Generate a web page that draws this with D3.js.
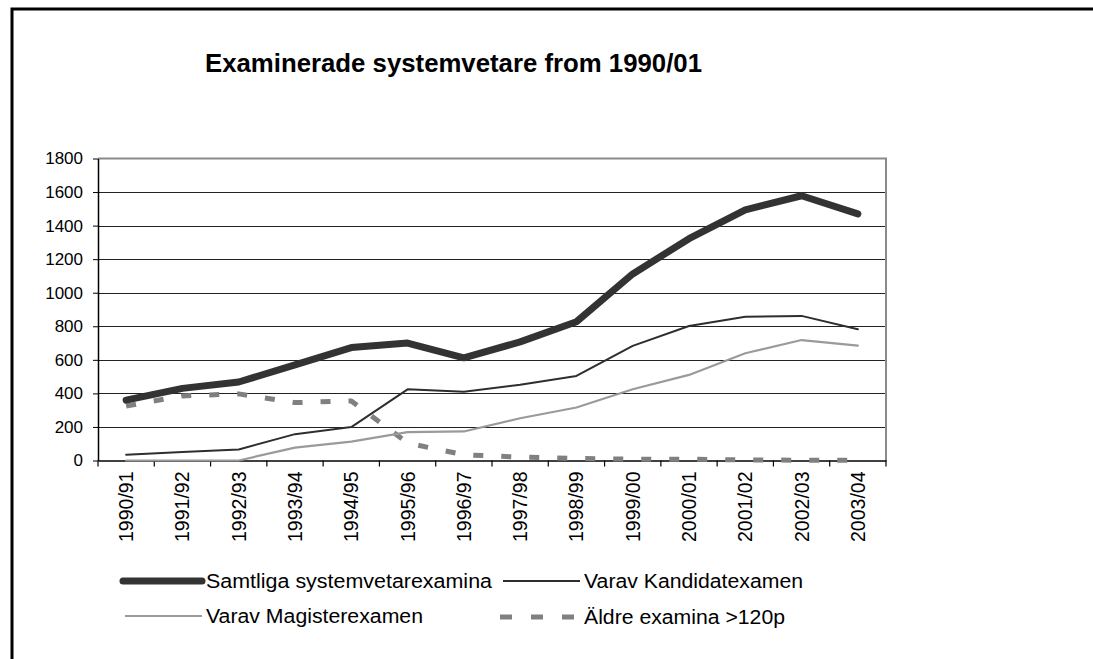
<!DOCTYPE html>
<html>
<head>
<meta charset="utf-8">
<script src="https://cdnjs.cloudflare.com/ajax/libs/d3/7.8.5/d3.min.js"></script>
<style>
    html, body { margin: 0; padding: 0; background: #fff; }
    svg { display: block; }
</style>
</head>
<body>
<script>
    var years = ["1990/91", "1991/92", "1992/93", "1993/94", "1994/95", "1995/96", "1996/97",
                 "1997/98", "1998/99", "1999/00", "2000/01", "2001/02", "2002/03", "2003/04"];
    var samtliga = [360, 430, 468, 570, 673, 700, 612, 707, 827, 1112, 1322, 1494, 1578, 1470];
    var kandidat = [34, 50, 66, 157, 199, 424, 410, 451, 504, 683, 802, 857, 862, 782];
    var magister = [0, 0, 0, 77, 113, 169, 173, 252, 316, 425, 510, 639, 718, 685];
    var aldre = [325, 385, 397, 345, 355, 104, 34, 20, 12, 8, 8, 3, 2, 2];
    var yTicks = [0, 200, 400, 600, 800, 1000, 1200, 1400, 1600, 1800];
    var names = ["Samtliga systemvetarexamina", "Varav Kandidatexamen", "Varav Magisterexamen", "Äldre examina >120p"];

    var W = 1093, H = 659;
    var padL = 98, padR = 886, padT = 158.5, padB = 460.5;
    var font = "'Liberation Sans', Arial, sans-serif";

    var svg = d3.select("body")
        .append("svg")
        .attr("width", W)
        .attr("height", H);

    // outer frame (open to the right and bottom)
    svg.append("rect")
        .attr("x", 12)
        .attr("y", 9)
        .attr("width", 1200)
        .attr("height", 800)
        .attr("fill", "none")
        .attr("stroke", "#000")
        .attr("stroke-width", 3);

    svg.append("text")
        .attr("x", 205)
        .attr("y", 72)
        .attr("textLength", 497)
        .attr("lengthAdjust", "spacingAndGlyphs")
        .style("font-family", font)
        .style("font-size", "25.6px")
        .style("font-weight", "bold")
        .text("Examinerade systemvetare from 1990/01");

    var xScale = d3.scaleBand()
        .domain(years)
        .range([padL, padR])
        .paddingInner(0)
        .paddingOuter(0);

    var yScale = d3.scaleLinear()
        .domain([0, 1800])
        .range([padB, padT]);

    // gridlines
    svg.append("g")
        .selectAll("line")
        .data(yTicks.slice(1, yTicks.length - 1))
        .enter()
        .append("line")
        .attr("x1", padL)
        .attr("x2", padR)
        .attr("y1", function(d){ return Math.round(yScale(d)) + 0.5; })
        .attr("y2", function(d){ return Math.round(yScale(d)) + 0.5; })
        .attr("stroke", "#222")
        .attr("stroke-width", 1);

    // plot border top / right in gray
    svg.append("path")
        .attr("d", "M" + padL + "," + padT + "H" + padR + "V" + padB)
        .attr("fill", "none")
        .attr("stroke", "#8a8a8a")
        .attr("stroke-width", 2);

    var yAxis = svg.append("g")
        .attr("transform", "translate(" + padL + ",0)")
        .call(d3.axisLeft(yScale).tickValues(yTicks).tickFormat(d3.format("d"))
            .tickSize(5).tickSizeOuter(0).tickPadding(10));

    yAxis.selectAll("text")
        .style("font-family", font)
        .style("font-size", "17px")
        .attr("fill", "#000");
    yAxis.select(".domain").attr("stroke", "#000").attr("stroke-width", 1.5);
    yAxis.selectAll("line").attr("stroke", "#000");

    var xAxis = svg.append("g")
        .attr("transform", "translate(0," + padB + ")")
        .call(d3.axisBottom(xScale).tickSize(0).tickSizeOuter(0));

    xAxis.select(".domain").attr("stroke", "#000").attr("stroke-width", 1.5);
    xAxis.selectAll("text")
        .style("font-family", font)
        .style("font-size", "19.5px")
        .attr("fill", "#000")
        .attr("text-anchor", "end")
        .attr("transform", "translate(0,11) rotate(-90)")
        .attr("x", 0)
        .attr("y", 0)
        .attr("dy", "0.36em");

    // ticks between categories
    xAxis.append("g")
        .selectAll("line")
        .data(years.concat(["end"]))
        .enter()
        .append("line")
        .attr("x1", function(d){ return d == "end" ? padR : xScale(d); })
        .attr("x2", function(d){ return d == "end" ? padR : xScale(d); })
        .attr("y1", 0)
        .attr("y2", 6)
        .attr("stroke", "#000")
        .attr("stroke-width", 1.2);

    var line = d3.line()
        .x(function(d, i){ return xScale(years[i]) + xScale.bandwidth() / 2; })
        .y(function(d){ return yScale(d); });

    var series = [
        { values: samtliga, color: "#333333", width: 7, dash: null },
        { values: kandidat, color: "#2e2e2e", width: 2, dash: null },
        { values: magister, color: "#9a9a9a", width: 2.2, dash: null },
        { values: aldre, color: "#808080", width: 5, dash: "10 18" }
    ];

    var drawOrder = [3, 2, 1, 0];
    for (var k = 0; k < drawOrder.length; k++) {
        var s = series[drawOrder[k]];
        svg.append("path")
            .datum(s.values)
            .attr("fill", "none")
            .attr("stroke", s.color)
            .attr("stroke-width", s.width)
            .attr("stroke-linejoin", "round")
            .attr("stroke-linecap", s.dash ? "butt" : "round")
            .attr("stroke-dasharray", s.dash)
            .attr("d", line);
    }

    // legend
    var legPos = [[123, 581], [503, 581], [125, 616], [500, 617]];
    var legTextLen = [286, 219, 217, 201];
    for (var j = 0; j < series.length; j++) {
        var p = legPos[j];
        var g = svg.append("g").attr("class", "legend");
        g.append("line")
            .attr("x1", p[0])
            .attr("x2", (j == 1 || j == 3) ? 580 : 202)
            .attr("y1", p[1])
            .attr("y2", p[1])
            .attr("stroke", series[j].color)
            .attr("stroke-width", series[j].width)
            .attr("stroke-linecap", j == 0 ? "round" : "butt")
            .attr("stroke-dasharray", series[j].dash ? "12 19" : null);
        g.append("text")
            .attr("x", j == 0 || j == 2 ? 206 : 584)
            .attr("y", p[1])
            .attr("dy", "0.36em")
            .attr("textLength", legTextLen[j])
            .attr("lengthAdjust", "spacingAndGlyphs")
            .style("font-family", font)
            .style("font-size", "20px")
            .text(names[j]);
    }
</script>
</body>
</html>
